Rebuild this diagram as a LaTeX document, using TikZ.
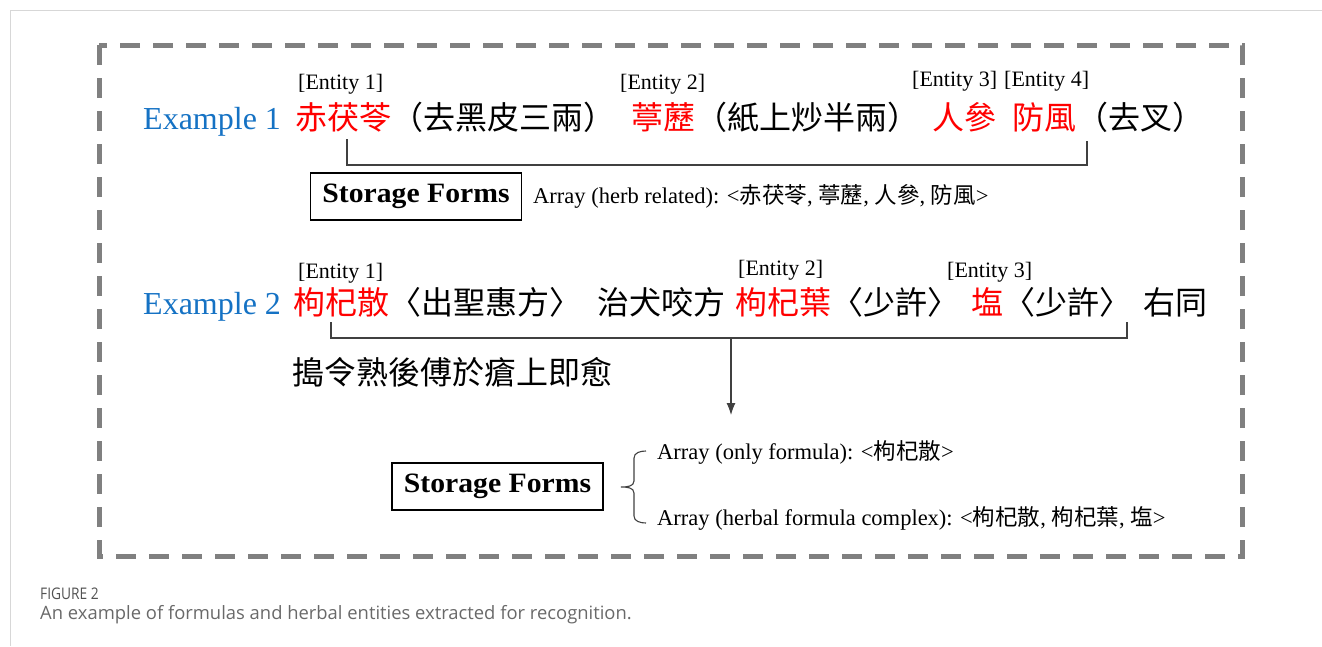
\documentclass[tikz,border=0pt]{standalone}
\usepackage{fontspec}
\setmainfont{Liberation Serif}
\newfontfamily\cjk{Noto Sans CJK TC}
\newfontfamily\capsans{Open Sans}
\usetikzlibrary{arrows.meta}
\definecolor{exblue}{RGB}{21,114,196}
\definecolor{entred}{RGB}{255,0,0}
\definecolor{framegray}{RGB}{128,128,128}
\definecolor{pagegray}{RGB}{215,215,215}
\definecolor{capgray}{RGB}{105,105,105}
\newcommand\cj[1]{{\cjk #1}}
\newcommand\sftext{\scalebox{1.06}[1]{Storage Forms}}
\begin{document}
\begin{tikzpicture}[x=1pt,y=-1pt,
 txt/.style={inner sep=0pt,anchor=base west},
 exlab/.style={txt,text=exblue,font=\fontsize{32}{38}\selectfont},
 ent/.style={txt,font=\fontsize{22}{26}\selectfont},
 herb/.style={txt,text=entred,font=\cjk\fontsize{32}{38}\selectfont},
 plain/.style={txt,font=\cjk\fontsize{32}{38}\selectfont},
 arr/.style={txt,font=\fontsize{22.5}{27}\selectfont},
 sbox/.style={draw,line width=1.5pt,minimum width=211pt,minimum height=47pt,inner sep=0pt,font=\bfseries\fontsize{28}{34}\selectfont},
 brk/.style={draw=black!75,line width=1.1pt},
 captxt/.style={txt,text=capgray},
]
\useasboundingbox (0,0) rectangle (1322,646);
\draw[pagegray,line width=1pt] (10,646) -- (10,10) -- (1322,10);
\draw[framegray,line width=5pt,dash pattern=on 20pt off 13pt] (99,45) rectangle (1242,556);

% Example 1
\node[exlab] (ex1) at (143,129) {Example 1};
\node[herb] (h11) at (295,129) {赤茯苓};
\node[plain] (p11) at (391,129) {（去黑皮三兩）};
\node[herb] (h12) at (631,129) {葶藶};
\node[plain] (p12) at (695,129) {（紙上炒半兩）};
\node[herb] (h13) at (932,129) {人參};
\node[herb] (h14) at (1012,129) {防風};
\node[plain] (p13) at (1076,129) {（去叉）};
\node[ent] (en11) at (298,89) {[Entity 1]};
\node[ent] (en12) at (620,89) {[Entity 2]};
\node[ent] (en13) at (912,86) {[Entity 3]};
\node[ent] (en14) at (1004,86) {[Entity 4]};

\coordinate (b1a) at (347,139);
\coordinate (b1b) at (1087,141);
\draw[brk] (b1a) -- ++(0,26) -| (b1b);

\node[sbox] (sf1) at (416,196.5) {\sftext};
\node[arr] (ar1) at (533,203) {Array (herb related): <\cj{赤茯苓}, \cj{葶藶}, \cj{人參}, \cj{防風}>};

% Example 2
\node[exlab] (ex2) at (143,314) {Example 2};
\node[herb] (h21) at (293,314) {枸杞散};
\node[plain] (p21) at (389,314) {〈出聖惠方〉};
\node[plain] (p22) at (597,314) {治犬咬方};
\node[herb] (h22) at (735,314) {枸杞葉};
\node[plain] (p23) at (831,314) {〈少許〉};
\node[herb] (h23) at (971,314) {塩};
\node[plain] (p24) at (1003,314) {〈少許〉};
\node[plain] (p25) at (1143,314) {右同};
\node[ent] (en21) at (298,278) {[Entity 1]};
\node[ent] (en22) at (738,275) {[Entity 2]};
\node[ent] (en23) at (947,277) {[Entity 3]};
\node[plain] (p26) at (292,384) {搗令熟後傅於瘡上即愈};

\coordinate (b2a) at (331,322);
\coordinate (b2b) at (1127,322);
\coordinate (b2m) at (731,338);
\coordinate (b2e) at (731,415);
\draw[brk] (b2a) -- ++(0,16) -| (b2b);
\draw[brk,-{Latex[length=12pt,width=9pt]}] (b2m) -- (b2e);

\node[sbox] (sf2) at (497.5,486.5) {\sftext};
\draw[brk] (646,451) to[out=180,in=90] (634,458) -- (634,481) to[out=-90,in=0] (621,487) to[out=0,in=90] (634,493) -- (634,516) to[out=-90,in=180] (646,523);
\node[arr] (ar2) at (657,459) {Array (only formula): <\cj{枸杞散}>};
\node[arr] (ar3) at (657,525) {Array (herbal formula complex): <\cj{枸杞散}, \cj{枸杞葉}, \cj{塩}>};

% caption
\node[captxt,font=\capsans\fontsize{16}{19}\selectfont,text=black!68] (fig) at (40,599) {\scalebox{0.86}[1]{FIGURE 2}};
\node[captxt,font=\capsans\fontsize{18.4}{22}\selectfont] (capt) at (40,619) {An example of formulas and herbal entities extracted for recognition.};
\end{tikzpicture}
\end{document}
